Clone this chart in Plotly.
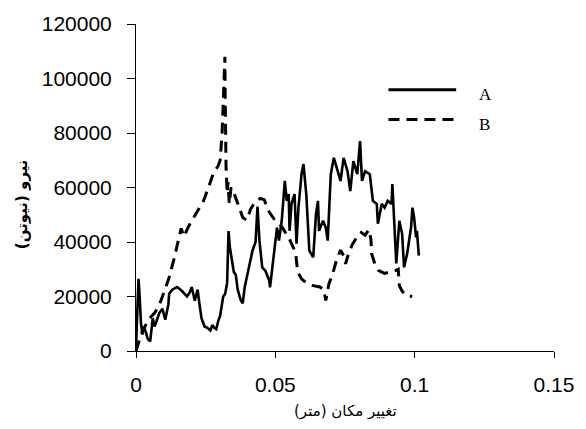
import plotly.graph_objects as go

# Series A (solid)
a_x = [0, 0.0005, 0.0009, 0.0012, 0.0018, 0.0023, 0.0028, 0.0035, 0.0042, 0.0051,
       0.0060, 0.0067, 0.0074, 0.0084, 0.0095, 0.0105, 0.0116, 0.0119, 0.0130, 0.0148,
       0.0165, 0.0183, 0.0193, 0.0200, 0.0211, 0.0221, 0.0228, 0.0235, 0.0246, 0.0256,
       0.0267, 0.0274, 0.0281, 0.0288, 0.0295, 0.0302, 0.0313, 0.0320, 0.0327, 0.0332,
       0.0337, 0.0344, 0.0351, 0.0358, 0.0365, 0.0376, 0.0383, 0.0390, 0.0404, 0.0418,
       0.0429, 0.0436, 0.0443, 0.0453, 0.0464, 0.0478, 0.0481, 0.0495, 0.0506, 0.0513,
       0.0523, 0.0534, 0.0541, 0.0548, 0.0551, 0.0558, 0.0569, 0.0576, 0.0583, 0.0594,
       0.0601, 0.0611, 0.0622, 0.0636, 0.0646, 0.0653, 0.0657, 0.0671, 0.0681, 0.0688,
       0.0699, 0.0710, 0.0724, 0.0734, 0.0745, 0.0759, 0.0769, 0.0780, 0.0794, 0.0804,
       0.0811, 0.0822, 0.0839, 0.0850, 0.0864, 0.0868, 0.0882, 0.0892, 0.0903, 0.0917,
       0.0920, 0.0927, 0.0934, 0.0945, 0.0955, 0.0962, 0.0973, 0.0987, 0.0992, 0.0998,
       0.1005, 0.1008, 0.1015]
a_y = [1000, 20000, 26500, 22000, 10000, 6000, 9000, 7000, 4500, 3500,
       12000, 9000, 11000, 14000, 15500, 11500, 17000, 21000, 22500, 23500,
       22000, 20000, 21500, 23500, 18500, 22500, 17000, 12000, 9000, 8500,
       7500, 9500, 8500, 8000, 11000, 13000, 20000, 21000, 25000, 44000,
       38000, 33000, 29000, 28000, 22500, 18600, 17500, 23400, 30700, 36800,
       40000, 53000, 40500, 30700, 29500, 25900, 23400, 35700, 45300, 40500,
       47800, 62400, 55100, 57600, 44100, 54000, 57600, 39400, 52600, 64900,
       68600, 57600, 36800, 34400, 50300, 55100, 44100, 47800, 45300, 40500,
       64900, 70900, 66000, 62400, 70900, 66000, 58700, 69700, 64900, 77000,
       62400, 66000, 64900, 55100, 54000, 46700, 54000, 52600, 55100, 54000,
       61300, 47800, 32100, 47800, 43000, 30700, 35700, 45300, 52600, 49000,
       41700, 44100, 35000]

# Series B (dashed)
b_x = [0, 0.0007, 0.0018, 0.0032, 0.0049, 0.0067, 0.0084, 0.0102, 0.0119, 0.0137,
       0.0151, 0.0162, 0.0172, 0.0190, 0.0207, 0.0225, 0.0242, 0.0260, 0.0277, 0.0295,
       0.0302, 0.0309, 0.0313, 0.0316, 0.0319, 0.0320, 0.0321, 0.0323, 0.0327, 0.0330,
       0.0335, 0.0341, 0.0348, 0.0358, 0.0369, 0.0383, 0.0397, 0.0411, 0.0429, 0.0446,
       0.0460, 0.0478, 0.0495, 0.0513, 0.0527, 0.0551, 0.0573, 0.0580, 0.0594, 0.0611,
       0.0636, 0.0660, 0.0674, 0.0681, 0.0692, 0.0706, 0.0720, 0.0734, 0.0745, 0.0752,
       0.0762, 0.0776, 0.0794, 0.0808, 0.0822, 0.0836, 0.0843, 0.0846, 0.0857, 0.0871,
       0.0892, 0.0913, 0.0931, 0.0941, 0.0945, 0.0955, 0.0969, 0.0991]
b_y = [0, 2500, 6000, 9000, 12000, 14000, 17000, 22000, 27000, 34000,
       40000, 45000, 42000, 46000, 49000, 52000, 55000, 60000, 65000, 68000,
       70000, 80000, 90000, 100000, 108000, 95000, 80000, 68000, 58000, 62000,
       54000, 60000, 59000, 56000, 53000, 49000, 48000, 52000, 55000, 56000,
       55500, 51000, 48500, 47000, 45000, 41000, 36000, 29000, 26500, 25000,
       24000, 23500, 22500, 18500, 24500, 28500, 33500, 37000, 35000, 32000,
       35500, 39000, 42000, 43500, 42500, 44500, 41000, 35500, 32000, 29500,
       28500, 29000, 29500, 30000, 24000, 22000, 20500, 20000]

series_names = ["A", "B"]
x_ticks = [0, 0.05, 0.1, 0.15]
x_tick_labels = ["0", "0.05", "0.1", "0.15"]
y_ticks = [0, 20000, 40000, 60000, 80000, 100000, 120000]
x_title = "تغيير مكان (متر)"
y_title = "نيرو (نيوتن)"

fig = go.Figure()
fig.add_trace(go.Scatter(x=a_x, y=a_y, mode="lines", name=series_names[0],
                         line=dict(color="black", width=2.6), showlegend=False))
fig.add_trace(go.Scatter(x=b_x, y=b_y, mode="lines", name=series_names[1],
                         line=dict(color="black", width=3, dash="11px,7px"), showlegend=False))

# manual legend
leg_x0, leg_x1 = 0.604, 0.766
for name, yy, dash in [(series_names[0], 0.799, "solid"), (series_names[1], 0.708, "11px,7px")]:
    fig.add_shape(type="line", xref="paper", yref="paper", x0=leg_x0, x1=leg_x1, y0=yy, y1=yy,
                  line=dict(color="black", width=3, dash=dash))
    fig.add_annotation(xref="paper", yref="paper", x=0.815, y=yy - 0.015, text=name,
                       showarrow=False, xanchor="left", yanchor="middle",
                       font=dict(family="Liberation Serif", size=17, color="black"))

fig.add_annotation(xref="paper", yref="paper", x=-0.272, y=0.45, text="<b>" + y_title + "</b>",
                   textangle=-90, showarrow=False, xanchor="center", yanchor="middle",
                   font=dict(family="DejaVu Sans", size=15, color="black"))
fig.add_annotation(xref="paper", yref="paper", x=0.5, y=-0.182, text=x_title,
                   showarrow=False, xanchor="center", yanchor="middle",
                   font=dict(family="DejaVu Sans", size=15, color="black"))

fig.update_layout(
    width=586, height=429,
    margin=dict(l=136, r=23, t=22, b=78),
    paper_bgcolor="white", plot_bgcolor="white",
    showlegend=False,
    xaxis=dict(range=[0, 0.15], tickvals=x_ticks, ticktext=x_tick_labels,
               showgrid=False, zeroline=False, showline=True, linecolor="black", linewidth=1,
               ticks="outside", ticklen=6, tickcolor="black", ticklabelstandoff=9,
               tickfont=dict(family="Liberation Sans", size=21, color="black")),
    yaxis=dict(range=[0, 120000], tickvals=y_ticks, ticktext=[str(v) for v in y_ticks],
               showgrid=False, zeroline=False, showline=True, linecolor="black", linewidth=1,
               ticks="outside", ticklen=8, tickcolor="black", ticklabelstandoff=11,
               tickfont=dict(family="Liberation Sans", size=21, color="black")),
)

fig.write_html("out.html", config={"displayModeBar": False},
               post_script="document.body.style.margin='0';document.body.style.overflow='hidden';")
